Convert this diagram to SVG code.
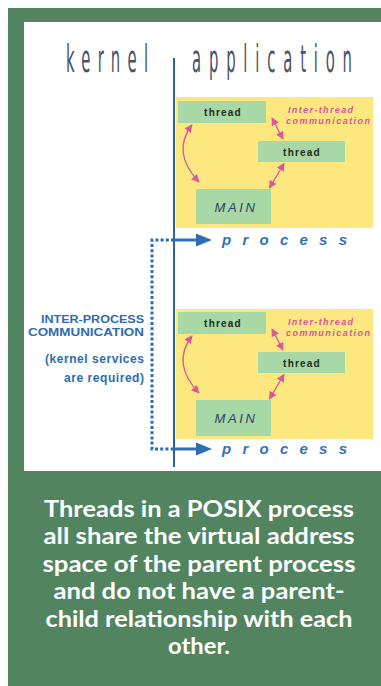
<svg xmlns="http://www.w3.org/2000/svg" width="381" height="686" viewBox="0 0 381 686">
  <defs>
    <style>
      .frame { fill: #52855f; }
      .panel { fill: #ffffff; }
      .space { fill: #fce87e; }
      .box { fill: #a8d8a6; }
      .title { font-family: "DejaVu Sans", sans-serif; font-weight: normal; font-size: 37px; fill: #4b5169; }
      .thread { font-family: "Liberation Sans", Arial, sans-serif; font-weight: bold; font-size: 10px; letter-spacing: 1.2px; fill: #1f2a22; text-anchor: middle; }
      .main { font-family: "Liberation Sans", Arial, sans-serif; font-style: italic; font-size: 13px; letter-spacing: 2.6px; fill: #2e3c6c; text-anchor: middle; }
      .itc { font-family: "Liberation Sans", Arial, sans-serif; font-weight: bold; font-style: italic; font-size: 9px; fill: #d9559c; }
      .proc { font-family: "Liberation Sans", Arial, sans-serif; font-weight: bold; font-style: italic; font-size: 15px; fill: #2f72bf; }
      .ipc { font-family: "Liberation Sans", Arial, sans-serif; font-weight: bold; fill: #2d6cb0; text-anchor: end; }
      .caption { font-family: Lato, "Open Sans", sans-serif; font-weight: bold; font-size: 22px; fill: #ffffff; text-anchor: middle; }
      .pink { fill: none; stroke: #d9599e; stroke-width: 1.3; }
      .axis { stroke: #2b62a3; stroke-width: 2; fill: none; }
      .dots { stroke: #2f6db5; stroke-width: 3; stroke-dasharray: 3 2.2; fill: none; }
      .solid { stroke: #2f6db5; stroke-width: 3; fill: none; }
      .head { fill: #2f6db5; }
    </style>
    <marker id="pinkHead" viewBox="0 0 10 10" refX="9" refY="5" markerWidth="8" markerHeight="8" markerUnits="userSpaceOnUse" orient="auto-start-reverse">
      <path d="M0,0 L10,5 L0,10 z" fill="#d9599e"/>
    </marker>
  </defs>

  <!-- background frame and white drawing panel -->
  <rect x="0" y="0" width="381" height="686" fill="#ffffff"/>
  <rect class="frame" x="8" y="8" width="373" height="678"/>
  <rect class="panel" x="24" y="22" width="357" height="449"/>

  <!-- headings (condensed by horizontal scaling) -->
  <g id="kernel-heading">
    <text class="title" transform="scale(0.4,1)" x="165" y="72" textLength="205" lengthAdjust="spacing">kernel</text>
  </g>
  <g id="application-heading">
    <text class="title" transform="scale(0.4,1)" x="480" y="72" textLength="400" lengthAdjust="spacing">application</text>
  </g>

  <!-- process 1 -->
  <g id="process-1">
    <rect class="space" x="176" y="97" width="197" height="131"/>
  </g>
  <g id="p1-thread-a">
    <rect class="box" x="178" y="101" width="88" height="22"/>
    <text class="thread" x="223" y="116">thread</text>
  </g>
  <g id="p1-thread-b">
    <rect class="box" x="258" y="141" width="87" height="21"/>
    <text class="thread" x="302" y="155.5">thread</text>
  </g>
  <g id="p1-main">
    <rect class="box" x="196" y="189" width="75" height="35"/>
    <text class="main" x="236" y="211.5">MAIN</text>
  </g>
  <g id="p1-itc-label">
    <text class="itc" x="288" y="113" textLength="65" lengthAdjust="spacing">Inter-thread</text>
    <text class="itc" x="286" y="124" textLength="84" lengthAdjust="spacing">communication</text>
  </g>
  <g id="p1-process-label">
    <text class="proc" x="222" y="244.5" textLength="125" lengthAdjust="spacing">process</text>
  </g>

  <!-- process 2 -->
  <g id="process-2">
    <rect class="space" x="176" y="309" width="197" height="130"/>
  </g>
  <g id="p2-thread-a">
    <rect class="box" x="178" y="312" width="88" height="22"/>
    <text class="thread" x="223" y="327">thread</text>
  </g>
  <g id="p2-thread-b">
    <rect class="box" x="258" y="352" width="87" height="21"/>
    <text class="thread" x="302" y="366.5">thread</text>
  </g>
  <g id="p2-main">
    <rect class="box" x="196" y="400" width="75" height="36"/>
    <text class="main" x="236" y="423">MAIN</text>
  </g>
  <g id="p2-itc-label">
    <text class="itc" x="288" y="325" textLength="65" lengthAdjust="spacing">Inter-thread</text>
    <text class="itc" x="286" y="336" textLength="84" lengthAdjust="spacing">communication</text>
  </g>
  <g id="p2-process-label">
    <text class="proc" x="222" y="453.5" textLength="125" lengthAdjust="spacing">process</text>
  </g>

  <!-- inter-process label -->
  <g id="ipc-label">
    <text class="ipc" x="144" y="322.5" font-size="11.5" textLength="103" lengthAdjust="spacingAndGlyphs">INTER-PROCESS</text>
    <text class="ipc" x="144" y="336" font-size="11.5" textLength="116" lengthAdjust="spacingAndGlyphs">COMMUNICATION</text>
    <text class="ipc" x="144" y="363" font-size="12" textLength="99" lengthAdjust="spacing">(kernel services</text>
    <text class="ipc" x="144" y="382" font-size="12" textLength="80" lengthAdjust="spacing">are required)</text>
  </g>

  <!-- connectors -->
  <g id="connectors">
    <!-- kernel / application boundary -->
    <line class="axis" x1="174" y1="58" x2="174" y2="467"/>

    <!-- inter-process path (dotted) and process arrows -->
    <path class="dots" d="M174,240 H152 V449 H174"/>
    <line class="solid" x1="174" y1="240" x2="198" y2="240"/>
    <polygon class="head" points="196,233.5 212,240 196,246.5"/>
    <line class="solid" x1="174" y1="449" x2="198" y2="449"/>
    <polygon class="head" points="196,442.5 212,449 196,455.5"/>

    <!-- inter-thread links, process 1 -->
    <path class="pink" d="M192,125 Q171,152.5 199,182" marker-start="url(#pinkHead)" marker-end="url(#pinkHead)"/>
    <path class="pink" d="M272,118 L283,139" marker-start="url(#pinkHead)" marker-end="url(#pinkHead)"/>
    <path class="pink" d="M284,163.5 L269.5,188" marker-start="url(#pinkHead)" marker-end="url(#pinkHead)"/>

    <!-- inter-thread links, process 2 -->
    <path class="pink" d="M192,336 Q171,363.5 199,393" marker-start="url(#pinkHead)" marker-end="url(#pinkHead)"/>
    <path class="pink" d="M272,329 L283,350" marker-start="url(#pinkHead)" marker-end="url(#pinkHead)"/>
    <path class="pink" d="M284,374.5 L269.5,399" marker-start="url(#pinkHead)" marker-end="url(#pinkHead)"/>
  </g>

  <!-- caption -->
  <g id="caption">
    <text class="caption" x="199" y="516.5" textLength="310" lengthAdjust="spacingAndGlyphs">Threads in a POSIX process</text>
    <text class="caption" x="199" y="544" textLength="311" lengthAdjust="spacingAndGlyphs">all share the virtual address</text>
    <text class="caption" x="199" y="571.5" textLength="313" lengthAdjust="spacingAndGlyphs">space of the parent process</text>
    <text class="caption" x="199" y="599" textLength="291" lengthAdjust="spacingAndGlyphs">and do not have a parent-</text>
    <text class="caption" x="199" y="626.5" textLength="307" lengthAdjust="spacingAndGlyphs">child relationship with each</text>
    <text class="caption" x="199" y="654" textLength="62" lengthAdjust="spacingAndGlyphs">other.</text>
  </g>
</svg>
